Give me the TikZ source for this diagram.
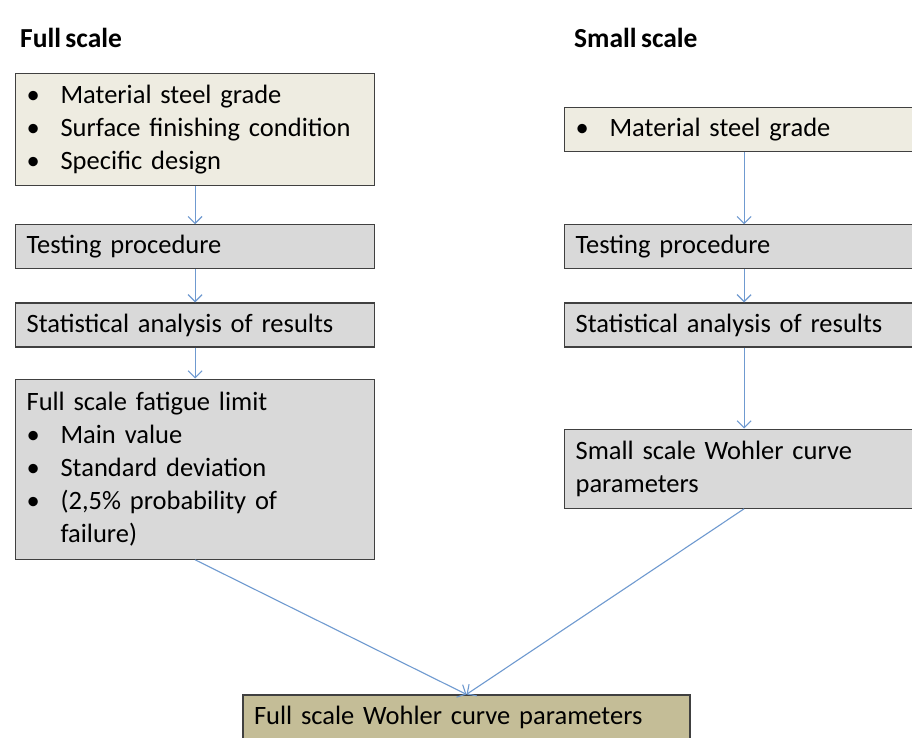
\documentclass[tikz,border=0pt]{standalone}
\usepackage{fontspec}
\setmainfont{Carlito}[WordSpace=0.7]
\usetikzlibrary{arrows.meta,positioning}

\definecolor{creamfill}{HTML}{EEECE1}
\definecolor{greyfill}{HTML}{D9D9D9}
\definecolor{tanfill}{HTML}{C4BD97}
\definecolor{boxline}{HTML}{404040}
\definecolor{flowblue}{HTML}{6F9AD0}

\newcommand{\bitem}{\makebox[34pt][l]{\textbullet}}

\begin{document}
\begin{tikzpicture}[x=1pt,y=-1pt,
                    font=\fontsize{26.5}{33}\selectfont,
                    box/.style={rectangle,draw=boxline,line width=1.2pt,
                      text width=337pt,align=left,inner xsep=11pt,inner ysep=0pt,
                      minimum height=44pt},
                    cream box/.style={box,fill=creamfill},
                    grey box/.style={box,fill=greyfill},
                    tan box/.style={box,fill=tanfill,text width=425pt},
                    title/.style={font=\fontsize{27.5}{30}\selectfont\bfseries,anchor=west,inner sep=0pt},
                    flow/.style={draw=flowblue,line width=1.1pt,-{Straight Barb[length=7pt,width=14pt]}}]
  \clip (0,0) rectangle (912,738);
  \fill[white] (0,0) rectangle (912,738);

  %titles%
  \node[title] (fullT) at (20,38) {Full scale};
  \node[title] (smallT) at (574,38) {Small scale};

  %full scale column%
  \node[cream box,minimum height=112pt,anchor=north west] (inputL) at (15,73)
    {\bitem Material steel grade\\ \bitem Surface finishing condition\\ \bitem Specific design};
  \node[grey box] (testL) [below=38pt of inputL] {Testing procedure};
  \node[grey box] (statL) [below=33pt of testL] {Statistical analysis of results};
  \node[grey box,minimum height=180pt] (limitL) [below=31pt of statL]
    {Full scale fatigue limit\\ \bitem Main value\\ \bitem Standard deviation\\
     \bitem (2,5\% probability of\\ \hspace*{34pt}failure)};

  %small scale column%
  \node[cream box,anchor=north west] (inputR) at (564,107) {\bitem Material steel grade};
  \node[grey box] (testR) [below=72pt of inputR] {Testing procedure};
  \node[grey box] (statR) [below=33pt of testR] {Statistical analysis of results};
  \node[grey box,minimum height=79pt] (wohlerR) [below=81pt of statR]
    {Small scale Wohler curve\\ parameters};

  %result%
  \node[tan box] (result) at (466.5,717) {Full scale Wohler curve parameters};

  \path[every edge/.style={flow}]
    (inputL) edge (testL)
    (testL) edge (statL)
    (statL) edge (limitL)
    (inputR) edge (testR)
    (testR) edge (statR)
    (statR) edge (wohlerR)
    (limitL.south) edge (result.north)
    (wohlerR.south) edge (result.north);
\end{tikzpicture}
\end{document}
